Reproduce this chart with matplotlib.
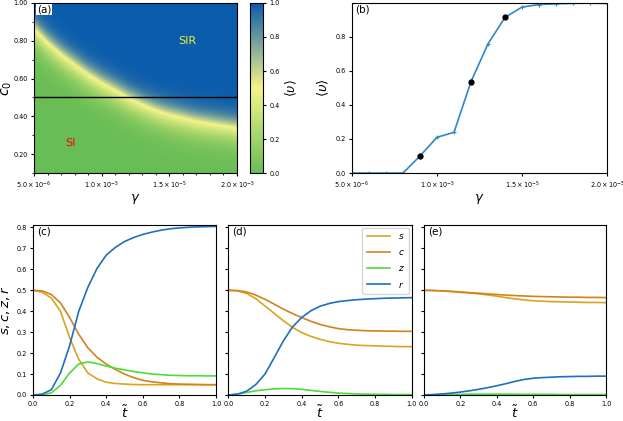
import numpy as np
import matplotlib
matplotlib.use("Agg")
from matplotlib import pyplot as plt
from matplotlib.colors import LinearSegmentedColormap
from matplotlib.ticker import FuncFormatter, MultipleLocator

# (a) ridge of <upsilon> = 0.5 in the (gamma, c0) plane
gamma_grid = [5e-6, 6e-6, 7e-6, 8e-6, 9e-6, 1.0e-5, 1.1e-5, 1.2e-5,
              1.3e-5, 1.4e-5, 1.5e-5, 1.6e-5, 1.7e-5, 1.8e-5, 1.9e-5, 2.0e-5]
c0_ridge = [0.859, 0.785, 0.723, 0.670, 0.618, 0.574, 0.535, 0.494,
            0.459, 0.429, 0.406, 0.389, 0.371, 0.359, 0.348, 0.336]
width_below = 0.05
width_above = 0.035

# (b) <upsilon> along c0 = 0.5
ups_cut = [0.0, 0.0, 0.0, 0.0, 0.10, 0.21, 0.239, 0.537,
           0.759, 0.914, 0.975, 0.990, 0.994, 0.997, 0.998, 0.996]
gamma_marked = [9e-6, 1.2e-5, 1.4e-5]
ups_marked = [0.10, 0.537, 0.914]

# (c)-(e) time series, sampled at t = 0, 0.05, ..., 1
t = [0.0, 0.05, 0.1, 0.15, 0.2, 0.25, 0.3, 0.35, 0.4, 0.45, 0.5,
     0.55, 0.6, 0.65, 0.7, 0.75, 0.8, 0.85, 0.9, 0.95, 1.0]

s_c = [0.5, 0.491, 0.463, 0.40, 0.274, 0.17, 0.105, 0.077, 0.061, 0.055, 0.052,
       0.050, 0.049, 0.049, 0.049, 0.049, 0.049, 0.049, 0.049, 0.049, 0.049]
c_c = [0.5, 0.497, 0.48, 0.44, 0.37, 0.29, 0.225, 0.18, 0.148, 0.122, 0.10,
       0.083, 0.07, 0.063, 0.058, 0.054, 0.052, 0.051, 0.050, 0.049, 0.049]
z_c = [0.0, 0.001, 0.01, 0.046, 0.105, 0.148, 0.158, 0.15, 0.138, 0.128, 0.12,
       0.112, 0.106, 0.10, 0.097, 0.094, 0.093, 0.092, 0.092, 0.091, 0.091]
r_c = [0.0, 0.004, 0.025, 0.105, 0.235, 0.40, 0.515, 0.605, 0.668, 0.705, 0.733,
       0.752, 0.767, 0.778, 0.787, 0.794, 0.798, 0.801, 0.803, 0.804, 0.805]

s_d = [0.5, 0.497, 0.485, 0.46, 0.425, 0.39, 0.355, 0.323, 0.298, 0.28, 0.266,
       0.255, 0.247, 0.242, 0.238, 0.236, 0.235, 0.233, 0.232, 0.231, 0.231]
c_d = [0.5, 0.499, 0.492, 0.477, 0.457, 0.434, 0.41, 0.389, 0.37, 0.352, 0.337,
       0.326, 0.317, 0.312, 0.309, 0.307, 0.306, 0.305, 0.305, 0.304, 0.304]
z_d = [0.0, 0.004, 0.012, 0.02, 0.025, 0.029, 0.031, 0.03, 0.027, 0.022, 0.017,
       0.013, 0.009, 0.007, 0.005, 0.004, 0.003, 0.003, 0.002, 0.002, 0.002]
r_d = [0.0, 0.004, 0.018, 0.05, 0.10, 0.178, 0.258, 0.325, 0.37, 0.402, 0.424,
       0.437, 0.446, 0.451, 0.455, 0.458, 0.46, 0.462, 0.463, 0.464, 0.465]

s_e = [0.5, 0.499, 0.497, 0.494, 0.49, 0.487, 0.483, 0.478, 0.472, 0.465, 0.459,
       0.454, 0.45, 0.448, 0.446, 0.445, 0.444, 0.443, 0.442, 0.442, 0.441]
c_e = [0.5, 0.499, 0.497, 0.495, 0.492, 0.489, 0.486, 0.483, 0.48, 0.477, 0.475,
       0.473, 0.471, 0.47, 0.469, 0.468, 0.467, 0.467, 0.466, 0.466, 0.465]
z_e = [0.0, 0.001, 0.002, 0.003, 0.003, 0.004, 0.004, 0.004, 0.004, 0.004, 0.004,
       0.003, 0.003, 0.003, 0.003, 0.002, 0.002, 0.002, 0.002, 0.002, 0.002]
r_e = [0.0, 0.002, 0.005, 0.009, 0.014, 0.02, 0.027, 0.035, 0.044, 0.054, 0.065,
       0.074, 0.08, 0.083, 0.085, 0.087, 0.088, 0.089, 0.089, 0.09, 0.09]

col_s = '#d9a520'
col_c = '#d2821e'
col_z = '#4cdc3a'
col_r = '#1f6fbf'

cmap = LinearSegmentedColormap.from_list('gyb', ['#69bd55', '#f4f488', '#0b5cac'])

TICK = 4.7
PANEL = 7.5


def sci_fmt(x, pos):
    m, e = ('%.1e' % x).split('e')
    return r'$%s\times10^{%d}$' % (m, int(e))


fig = plt.figure(figsize=(6.23, 4.21), dpi=100)

# ---- (a) heatmap
ax_a = fig.add_axes([0.0546, 0.589, 0.3258, 0.4039])
gg = np.linspace(5e-6, 2e-5, 300)
cc = np.linspace(0.1, 1.0, 300)
G, C = np.meshgrid(gg, cc)
ridge = np.interp(G, gamma_grid, c0_ridge)
d = C - ridge
w = np.where(d > 0, width_above, width_below)
field = 1.0 / (1.0 + np.exp(-d / w))
im = ax_a.imshow(field, origin='lower', aspect='auto', cmap=cmap, vmin=0, vmax=1,
                 extent=[5e-6, 2e-5, 0.1, 1.0])
ax_a.axhline(0.5, color='black', lw=1)
ax_a.text(1.63e-5, 0.8, 'SIR', color='#f0f030', fontsize=8, ha='center', va='center')
ax_a.text(7.66e-6, 0.26, 'SI', color='red', fontsize=8, ha='center', va='center')
ax_a.text(0.015, 0.99, '(a)', transform=ax_a.transAxes, fontsize=PANEL, ha='left', va='top',
          bbox=dict(facecolor='white', edgecolor='none', pad=0.5))
ax_a.set_xticks([5e-6, 1e-5, 1.5e-5, 2e-5])
ax_a.xaxis.set_major_formatter(FuncFormatter(sci_fmt))
ax_a.xaxis.set_minor_locator(MultipleLocator(1e-6))
ax_a.set_yticks([0.2, 0.4, 0.6, 0.8, 1.0])
ax_a.yaxis.set_minor_locator(MultipleLocator(0.1))
ax_a.yaxis.set_major_formatter(FuncFormatter(lambda v, p: '%.2f' % v))
ax_a.tick_params(labelsize=TICK, length=2.5, pad=2)
ax_a.tick_params(which='minor', length=1.5)
ax_a.set_xlabel(r'$\gamma$', fontsize=9.5, labelpad=1)
ax_a.set_ylabel(r'$c_0$', fontsize=10, labelpad=0)

cax = fig.add_axes([0.4013, 0.589, 0.0209, 0.4039])
cb = fig.colorbar(im, cax=cax, ticks=[0, 0.2, 0.4, 0.6, 0.8, 1.0])
cb.ax.tick_params(labelsize=TICK, length=2.5, pad=2)
cb.set_label(r'$\langle\upsilon\rangle$', fontsize=9, labelpad=3)

# ---- (b) cut at c0 = 0.5
ax_b = fig.add_axes([0.565, 0.589, 0.4093, 0.4039])
ax_b.plot(gamma_grid, ups_cut, color='#2f86c8', lw=1.2, marker='+', ms=2.5, mew=0.8)
ax_b.plot(gamma_marked, ups_marked, 'o', color='black', ms=3.5)
ax_b.set_xlim(5e-6, 2e-5)
ax_b.set_ylim(0, 0.999)
ax_b.set_xticks([5e-6, 1e-5, 1.5e-5, 2e-5])
ax_b.xaxis.set_major_formatter(FuncFormatter(sci_fmt))
ax_b.set_yticks([0.0, 0.2, 0.4, 0.6, 0.8])
ax_b.tick_params(labelsize=TICK, length=2.5, pad=2)
ax_b.set_xlabel(r'$\gamma$', fontsize=9.5, labelpad=1)
ax_b.set_ylabel(r'$\langle\upsilon\rangle$', fontsize=9.5, labelpad=3)
ax_b.text(0.012, 0.99, '(b)', transform=ax_b.transAxes, fontsize=PANEL, ha='left', va='top')

# ---- (c)-(e) dynamics
panels = [
    ([0.053, 0.0618, 0.2937, 0.4038], '(c)', s_c, c_c, z_c, r_c),
    ([0.3665, 0.0618, 0.2943, 0.4038], '(d)', s_d, c_d, z_d, r_d),
    ([0.6806, 0.0618, 0.2921, 0.4038], '(e)', s_e, c_e, z_e, r_e),
]
for i, (rect, lab, s, c, z, r) in enumerate(panels):
    ax = fig.add_axes(rect)
    ax.plot(t, s, color=col_s, lw=1.2, label=r'$s$')
    ax.plot(t, c, color=col_c, lw=1.2, label=r'$c$')
    ax.plot(t, z, color=col_z, lw=1.2, label=r'$z$')
    ax.plot(t, r, color=col_r, lw=1.2, label=r'$r$')
    ax.set_xlim(0, 1)
    ax.set_ylim(0, 0.812)
    ax.set_xticks([0, 0.2, 0.4, 0.6, 0.8, 1.0])
    ax.set_yticks(np.arange(0, 0.81, 0.1))
    ax.tick_params(labelsize=TICK, length=2.5, pad=2)
    ax.set_xlabel(r'$\tilde{t}$', fontsize=9.5, labelpad=-2)
    ax.text(0.02, 0.99, lab, transform=ax.transAxes, fontsize=PANEL, ha='left', va='top')
    if i == 0:
        ax.set_ylabel(r'$s, c, z, r$', fontsize=9.5, labelpad=3)
    else:
        ax.set_yticklabels([])
    if i == 1:
        ax.legend(loc='upper right', fontsize=6.5, handlelength=2.6, borderpad=0.5,
                  labelspacing=0.75, borderaxespad=0.3)

fig.savefig('out.png', dpi=100)
